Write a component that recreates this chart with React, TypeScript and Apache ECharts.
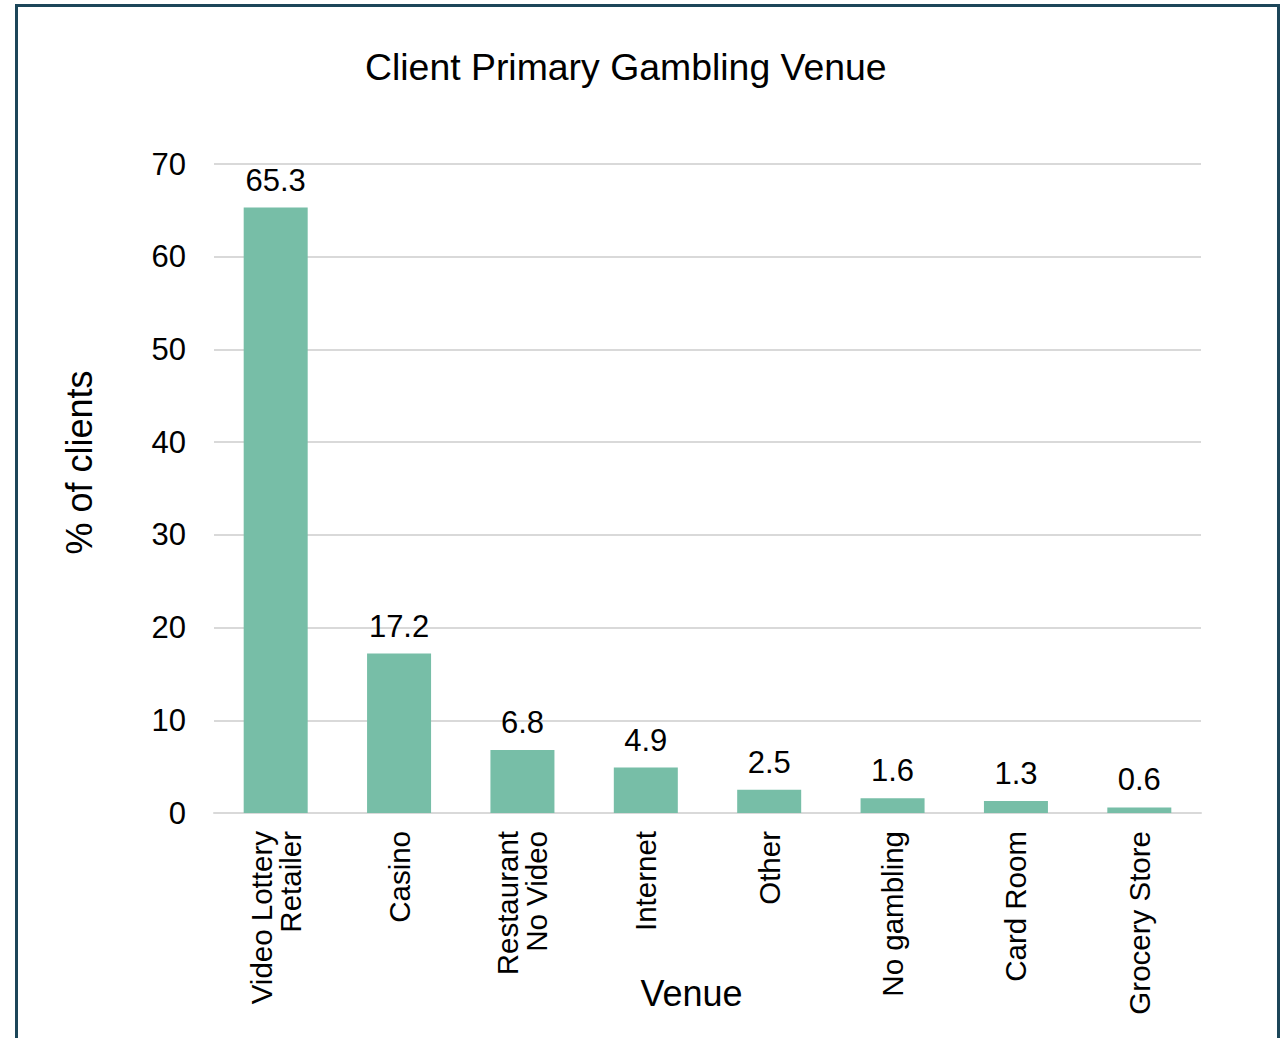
import React, { useEffect, useRef } from "react";
import * as echarts from "echarts";

const categories = [
  "Video Lottery\nRetailer",
  "Casino",
  "Restaurant\nNo Video",
  "Internet",
  "Other",
  "No gambling",
  "Card Room",
  "Grocery Store",
];
const values = [65.3, 17.2, 6.8, 4.9, 2.5, 1.6, 1.3, 0.6];
const titleText = "Client Primary Gambling Venue";
const yAxisName = "% of clients";
const xAxisName = "Venue";

const FONT = "'Liberation Sans', Arial, sans-serif";

export default function App() {
  const ref = useRef<HTMLDivElement>(null);
  useEffect(() => {
    if (!ref.current) return;
    const chart = echarts.init(ref.current, undefined, { renderer: "svg" });
    chart.setOption({
      animation: false,
      backgroundColor: "#ffffff",
      textStyle: { fontFamily: FONT },
      title: {
        text: titleText,
        left: 365,
        top: 48,
        padding: 0,
        textStyle: { fontFamily: FONT, fontSize: 37.4, fontWeight: "normal", color: "#000000" },
      },
      graphic: [
        {
          type: "rect",
          silent: true,
          shape: { x: 16.5, y: 5.5, width: 1262, height: 1200 },
          style: { fill: "none", stroke: "#1C4659", lineWidth: 3 },
          z: 100,
        },
      ],
      grid: {
        left: 214,
        right: 85,
        top: 164,
        bottom: 225,
        containLabel: false,
        outerBoundsMode: "none",
      },
      xAxis: {
        type: "category",
        data: categories,
        name: xAxisName,
        nameLocation: "middle",
        nameGap: 162,
        nameMoveOverlap: false,
        nameTextStyle: { fontFamily: FONT, fontSize: 36, color: "#000000", padding: [0, 32, 0, 0] },
        axisLine: { show: true, lineStyle: { color: "#d9d9d9", width: 2 } },
        axisTick: { show: false },
        axisLabel: {
          rotate: 90,
          interval: 0,
          margin: 18,
          fontFamily: FONT,
          fontSize: 29.5,
          lineHeight: 29,
          color: "#000000",
        },
      },
      yAxis: {
        type: "value",
        min: 0,
        max: 70,
        interval: 10,
        name: yAxisName,
        nameLocation: "middle",
        nameGap: 117,
        nameMoveOverlap: false,
        nameTextStyle: { fontFamily: FONT, fontSize: 36, color: "#000000", padding: [0, 0, 0, 52] },
        axisLine: { show: false },
        axisTick: { show: false },
        axisLabel: { margin: 28, fontFamily: FONT, fontSize: 31, color: "#000000" },
        splitLine: { show: true, lineStyle: { color: "#d9d9d9", width: 2 } },
      },
      series: [
        {
          type: "bar",
          data: values,
          barWidth: 64,
          itemStyle: { color: "#77BEA7" },
          label: {
            show: true,
            position: "top",
            distance: 12,
            fontFamily: FONT,
            fontSize: 31,
            color: "#000000",
          },
        },
      ],
    });
    return () => chart.dispose();
  }, []);
  return (
    <div
      ref={ref}
      style={{ position: "fixed", left: 0, top: 0, width: 1286, height: 1038 }}
    />
  );
}
